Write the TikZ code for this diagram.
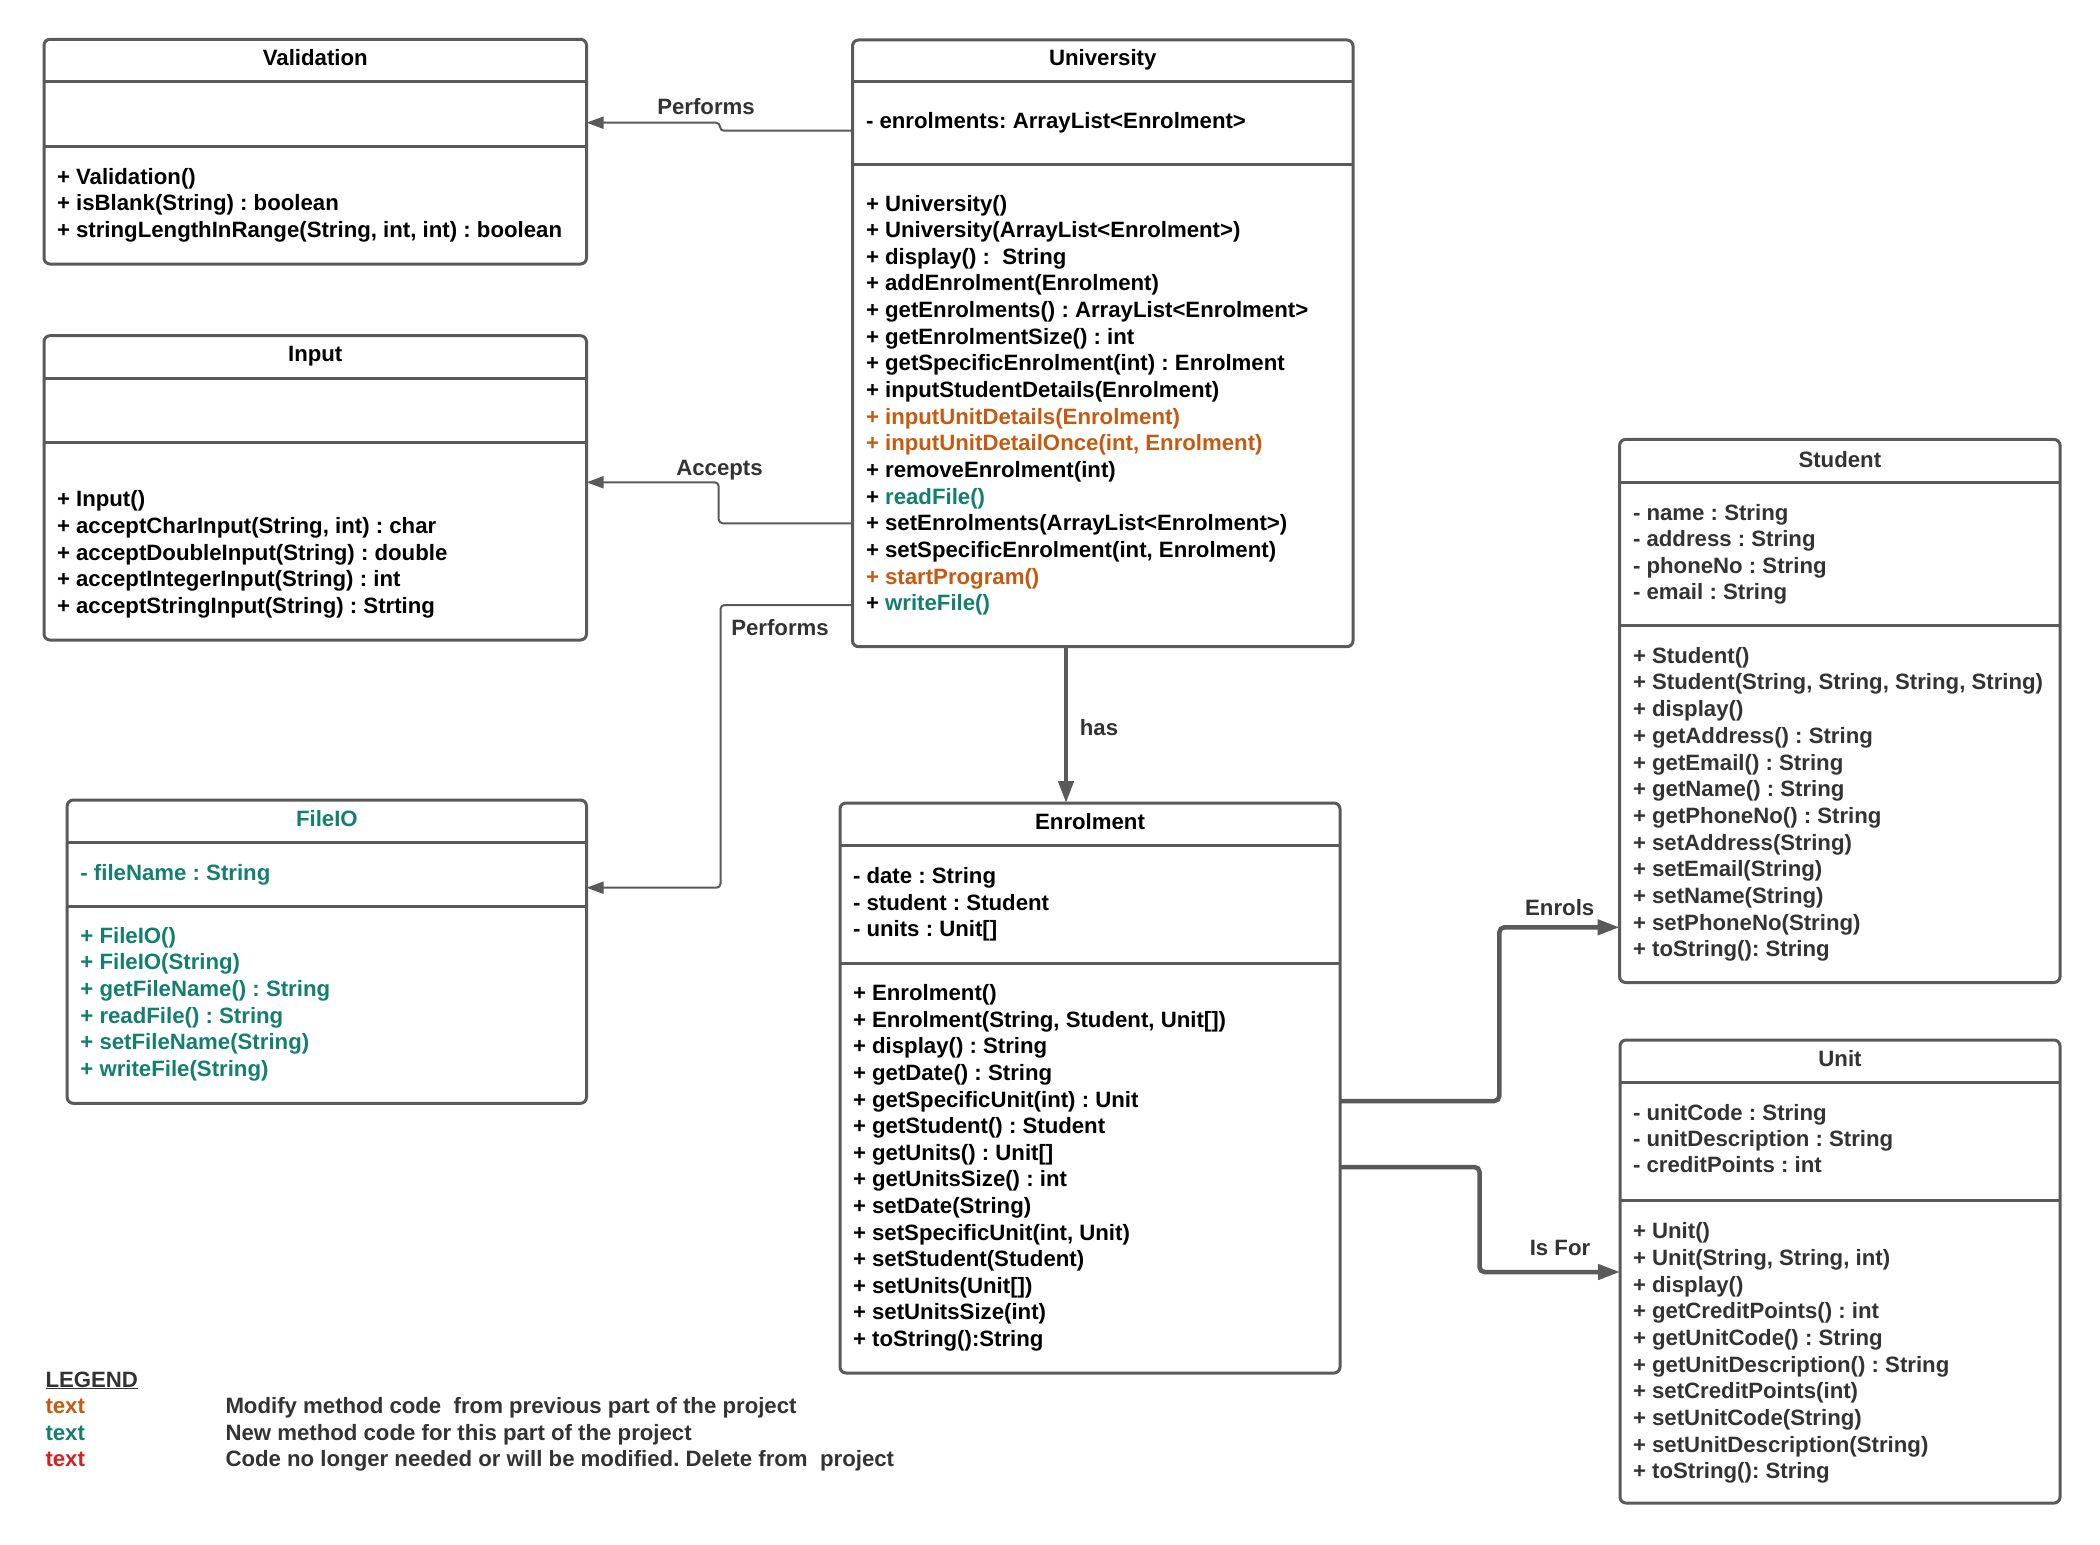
\documentclass[tikz,border=0pt]{standalone}
\usepackage{fontspec}
\setmainfont{Liberation Sans}
\usetikzlibrary{arrows.meta}
\definecolor{lc}{HTML}{5A5A5A}
\definecolor{dg}{HTML}{333333}
\definecolor{orng}{HTML}{C55A11}
\definecolor{tealc}{HTML}{12806C}
\definecolor{redc}{HTML}{D42020}
\tikzset{
  box/.style={draw=lc, line width=3pt, rounded corners=6pt, inner sep=0pt, outer sep=0pt, fill=white},
  divline/.style={draw=lc, line width=3pt},
  txt/.style={inner sep=0pt, outer sep=0pt, anchor=base west, font=\fontsize{22.2}{26.6}\selectfont\bfseries\frenchspacing},
  ttl/.style={txt, anchor=base},
  lbl/.style={txt, anchor=base, text=dg},
  thinc/.style={draw=lc, line width=2pt, rounded corners=4pt, -{Triangle[length=17pt,width=12pt]}},
  thickc/.style={draw=lc, line width=4.5pt, rounded corners=5pt, -{Triangle[length=22pt,width=15pt]}},
}
\begin{document}
\frenchspacing
\begin{tikzpicture}[x=1pt,y=-1pt]
\useasboundingbox[fill=white] (0,0) rectangle (2100,1544);

% ---------- boxes ----------
\node[box, minimum width=542.5pt, minimum height=224.7pt] (val) at (315.25,151.65) {};
\node[box, minimum width=542.5pt, minimum height=304.3pt] (inp) at (315.25,487.85) {};
\node[box, minimum width=519.3pt, minimum height=303.3pt] (fio) at (326.85,951.65) {};
\node[box, minimum width=500.5pt, minimum height=606.7pt] (uni) at (1102.75,343.35) {};
\node[box, minimum width=500pt, minimum height=570pt] (enr) at (1090,1088) {};
\node[box, minimum width=440.4pt, minimum height=543.1pt] (stu) at (1839.8,710.95) {};
\node[box, minimum width=440pt, minimum height=463pt] (unt) at (1840,1271.5) {};

% ---------- dividers ----------
\foreach \bx/\ya/\yb in {val/81.7/146, inp/378.3/442.7, fio/842.3/906.7, uni/81.7/164.3, enr/845.2/963.9, stu/482.3/625.8, unt/1082.6/1200.6}{
  \draw[divline] (\bx.west |- 0,\ya) -- (\bx.east |- 0,\ya);
  \draw[divline] (\bx.west |- 0,\yb) -- (\bx.east |- 0,\yb);
}

% ---------- titles ----------
\node[ttl] (val-t) at (315.25,66) {Validation};
\node[ttl] (inp-t) at (315.25,361.7) {Input};
\node[ttl, text=tealc] (fio-t) at (326.85,826) {FileIO};
\node[ttl] (uni-t) at (1102.75,66) {University};
\node[ttl] (enr-t) at (1090,829.4) {Enrolment};
\node[ttl, text=dg] (stu-t) at (1839.8,467) {Student};
\node[ttl, text=dg] (unt-t) at (1840,1066) {Unit};

% ---------- Validation ----------
\foreach \tx [count=\i from 0] in {{+ Validation()},{+ isBlank(String) : boolean},{+ stringLengthInRange(String, int, int) : boolean}}
  \node[txt] (val-m\i) at (57,184+26.65*\i) {\tx};

% ---------- Input ----------
\foreach \tx [count=\i from 0] in {{+ Input()},{+ acceptCharInput(String, int) : char},{+ acceptDoubleInput(String) : double},{+ acceptIntegerInput(String) : int},{+ acceptStringInput(String) : Strting}}
  \node[txt] (inp-m\i) at (57,506.7+26.65*\i) {\tx};

% ---------- FileIO ----------
\node[txt, text=tealc] (fio-a0) at (80.4,880) {- fileName : String};
\foreach \tx [count=\i from 0] in {{+ FileIO()},{+ FileIO(String)},{+ getFileName() : String},{+ readFile() : String},{+ setFileName(String)},{+ writeFile(String)}}
  \node[txt, text=tealc] (fio-m\i) at (80.4,943.3+26.65*\i) {\tx};

% ---------- University ----------
\node[txt] (uni-a0) at (866,128.3) {- enrolments: ArrayList<Enrolment>};
\foreach \tx [count=\i from 0] in {{+ University()},{+ University(ArrayList<Enrolment>)},{+ display() :\ \ String},{+ addEnrolment(Enrolment)},{+ getEnrolments() : ArrayList<Enrolment>},{+ getEnrolmentSize() : int},{+ getSpecificEnrolment(int) : Enrolment},{+ inputStudentDetails(Enrolment)},{\textcolor{orng}{+ inputUnitDetails(Enrolment)}},{\textcolor{orng}{+ inputUnitDetailOnce(int, Enrolment)}},{+ removeEnrolment(int)},{+ \textcolor{tealc}{readFile()}},{+ setEnrolments(ArrayList<Enrolment>)},{+ setSpecificEnrolment(int, Enrolment)},{\textcolor{orng}{+ startProgram()}},{+ \textcolor{tealc}{writeFile()}}}
  \node[txt] (uni-m\i) at (866,211+26.65*\i) {\tx};

% ---------- Enrolment ----------
\foreach \tx [count=\i from 0] in {{- date : String},{- student : Student},{- units : Unit[]}}
  \node[txt] (enr-a\i) at (853,883.6+26.5*\i) {\tx};
\foreach \tx [count=\i from 0] in {{+ Enrolment()},{+ Enrolment(String, Student, Unit[])},{+ display() : String},{+ getDate() : String},{+ getSpecificUnit(int) : Unit},{+ getStudent() : Student},{+ getUnits() : Unit[]},{+ getUnitsSize() : int},{+ setDate(String)},{+ setSpecificUnit(int, Unit)},{+ setStudent(Student)},{+ setUnits(Unit[])},{+ setUnitsSize(int)},{+ toString():String}}
  \node[txt] (enr-m\i) at (853,1000.6+26.6*\i) {\tx};

% ---------- Student ----------
\foreach \tx [count=\i from 0] in {{- name : String},{- address : String},{- phoneNo : String},{- email : String}}
  \node[txt, text=dg] (stu-a\i) at (1633,520.6+26.2*\i) {\tx};
\foreach \tx [count=\i from 0] in {{+ Student()},{+ Student(String, String, String, String)},{+ display()},{+ getAddress() : String},{+ getEmail() : String},{+ getName() : String},{+ getPhoneNo() : String},{+ setAddress(String)},{+ setEmail(String)},{+ setName(String)},{+ setPhoneNo(String)},{+ toString(): String}}
  \node[txt, text=dg] (stu-m\i) at (1633,663.3+26.68*\i) {\tx};

% ---------- Unit ----------
\foreach \tx [count=\i from 0] in {{- unitCode : String},{- unitDescription : String},{- creditPoints : int}}
  \node[txt, text=dg] (unt-a\i) at (1633,1120.7+26.1*\i) {\tx};
\foreach \tx [count=\i from 0] in {{+ Unit()},{+ Unit(String, String, int)},{+ display()},{+ getCreditPoints() : int},{+ getUnitCode() : String},{+ getUnitDescription() : String},{+ setCreditPoints(int)},{+ setUnitCode(String)},{+ setUnitDescription(String)},{+ toString(): String}}
  \node[txt, text=dg] (unt-m\i) at (1633,1238.7+26.68*\i) {\tx};

% ---------- connectors ----------
\draw[thinc] (uni.west |- 0,130.7) -- (720,130.7) -- (720,122.7) -- (val.east |- 0,122.7);
\draw[thinc] (uni.west |- 0,523.3) -- (718.7,523.3) -- (718.7,482.3) -- (inp.east |- 0,482.3);
\draw[thinc] (uni.west |- 0,605) -- (720.5,605) -- (720.5,887.7) -- (fio.east |- 0,887.7);
\draw[thickc] (uni.south -| 1066,0) -- (enr.north -| 1066,0);
\draw[thickc] (enr.east |- 0,1101) -- (1499.3,1101) -- (1499.3,927.3) -- (stu.west |- 0,927.3);
\draw[thickc] (enr.east |- 0,1167) -- (1479.5,1167) -- (1479.5,1272) -- (unt.west |- 0,1272);

% ---------- connector labels ----------
\node[lbl] (l-perf1) at (706,115) {Performs};
\node[lbl] (l-acc) at (719.5,475) {Accepts};
\node[lbl] (l-perf2) at (780,635) {Performs};
\node[lbl] (l-has) at (1099,735) {has};
\node[lbl] (l-enr) at (1559.7,915) {Enrols};
\node[lbl] (l-isf) at (1560,1255) {Is For};

% ---------- legend ----------
\node[txt, text=dg] (leg) at (45.5,1387) {\underline{LEGEND}};
\node[txt, text=orng] (leg-1) at (45.5,1413.3) {text};
\node[txt, text=tealc] (leg-2) at (45.5,1440) {text};
\node[txt, text=redc] (leg-3) at (45.5,1466.7) {text};
\node[txt, text=dg] (leg-d1) at (225.5,1413.3) {Modify method code\ \ from previous part of the project};
\node[txt, text=dg] (leg-d2) at (225.5,1440) {New method code for this part of the project};
\node[txt, text=dg] (leg-d3) at (225.5,1466.7) {Code no longer needed or will be modified. Delete from\ \ project};
\end{tikzpicture}
\end{document}
